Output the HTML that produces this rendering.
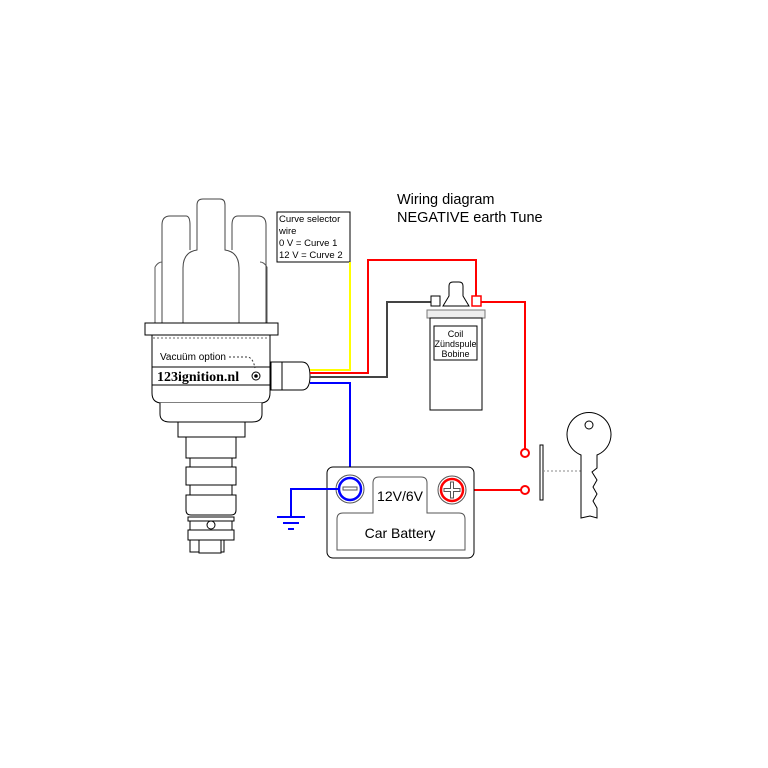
<!DOCTYPE html>
<html><head><style>body{margin:0;background:#fff}svg{display:block}text{font-family:"Liberation Sans",sans-serif}</style></head><body>
<svg width="768" height="768" viewBox="0 0 768 768" fill="none" stroke="#000" stroke-width="1">
<text x="397" y="204" font-size="14.5" fill="#000" stroke="none">Wiring diagram</text>
<text x="397" y="222" font-size="14.5" fill="#000" stroke="none">NEGATIVE earth Tune</text>
<path d="M155 267 L155 323 M267 267 L267 323" stroke="#555"/>
<path d="M162 323 L162 225 Q162 216 170 216 L186 216 Q190 216 190 225 L190 250" fill="#fff" stroke="#444"/>
<path d="M232 250 L232 225 Q232 216 238 216 L258 216 Q266 216 266 225 L266 323" fill="#fff" stroke="#444"/>
<path d="M155 267 Q158 262 162 262 M267 267 Q264 262 260 262" stroke="#555"/>
<path d="M183 323 L183 268 Q183 252 197 250 L197 205 Q197 199 203 199 L220 199 Q225 199 225 205 L225 250 Q239 252 239 268 L239 323" fill="#fff" stroke="#444"/>
<rect x="145" y="323" width="133" height="12" fill="#fff"/>
<path d="M152 335 L152 393 Q152 403 162 403 L260 403 Q270 403 270 393 L270 335 Z" fill="#fff"/>
<line x1="153" y1="338" x2="269" y2="338" stroke-dasharray="2,2" stroke="#666"/>
<line x1="152" y1="367" x2="270" y2="367"/>
<line x1="152" y1="385" x2="270" y2="385"/>
<text x="160" y="360" font-size="10" fill="#000" stroke="none">Vacuüm option</text>
<path d="M229 357 L248 357 Q253 358 255 368" stroke-dasharray="2,2" stroke="#333"/>
<circle cx="256" cy="376" r="4"/><circle cx="256" cy="376" r="1.3" fill="#000"/>
<text x="157" y="381" font-size="14" font-weight="bold" fill="#000" stroke="none" style="font-family:'Liberation Serif',serif">123ignition.nl</text>
<path d="M160 403 L160 414 Q160 422 170 422 L252 422 Q262 422 262 414 L262 403" fill="#fff"/>
<rect x="178" y="422" width="67" height="15" fill="#fff"/>
<rect x="186" y="437" width="50" height="21" fill="#fff"/>
<rect x="190" y="458" width="42" height="9" fill="#fff"/>
<rect x="186" y="467" width="50" height="18" fill="#fff"/>
<rect x="190" y="485" width="42" height="10" fill="#fff"/>
<path d="M186 495 L236 495 L236 510 Q236 515 231 515 L191 515 Q186 515 186 510 Z" fill="#fff"/>
<rect x="188" y="517" width="46" height="4" fill="#fff"/>
<rect x="190" y="521" width="42" height="9" fill="#fff"/>
<circle cx="211" cy="525" r="4" fill="#fff"/>
<rect x="188" y="530" width="46" height="10" fill="#fff"/>
<rect x="190" y="540" width="34" height="12" fill="#fff"/>
<rect x="199" y="540" width="22" height="13" fill="#fff"/>
<rect x="271" y="362" width="11" height="28" fill="#fff"/>
<path d="M282 362 L302 362 Q310 362 310 376 Q310 390 302 390 L282 390 Z" fill="#fff"/>
<rect x="277" y="212" width="73" height="50" fill="#fff"/>
<text font-size="9.5" fill="#000" stroke="none"><tspan x="279" y="222">Curve selector</tspan><tspan x="279" y="234">wire</tspan><tspan x="279" y="246">0 V = Curve 1</tspan><tspan x="279" y="258">12 V = Curve 2</tspan></text>
<polyline points="310,370 350,370 350,262" stroke="#ff0" stroke-width="2"/>
<polyline points="310,373 368,373 368,260 476,260 476,300" stroke="#f00" stroke-width="2"/>
<polyline points="310,377 387,377 387,302 432,302" stroke="#444" stroke-width="2"/>
<polyline points="310,383 350,383 350,478" stroke="#00f" stroke-width="2"/>
<polyline points="480,302 525,302 525,449" stroke="#f00" stroke-width="2"/>
<polyline points="465,490 521,490" stroke="#f00" stroke-width="2"/>
<circle cx="525" cy="453" r="4" stroke="#f00" stroke-width="2" fill="#fff"/>
<circle cx="525" cy="490" r="4" stroke="#f00" stroke-width="2" fill="#fff"/>
<path d="M443 306 L449 296 L449 286 Q449 282 453 282 L459 282 Q463 282 463 286 L463 296 L469 306 Z" fill="#fff"/>
<rect x="431" y="296" width="9" height="10" fill="#fff"/>
<rect x="472" y="296" width="9" height="10" fill="#fff" stroke="#f00" stroke-width="1.5"/>
<rect x="427" y="310" width="58" height="8" fill="#eee" stroke="#777"/>
<rect x="430" y="318" width="52" height="92" fill="#fff"/>
<rect x="434" y="326" width="43" height="34"/>
<text font-size="9" fill="#000" stroke="none" text-anchor="middle"><tspan x="455.5" y="337">Coil</tspan><tspan x="455.5" y="347">Zündspule</tspan><tspan x="455.5" y="357">Bobine</tspan></text>
<rect x="327" y="467" width="147" height="91" rx="6" fill="#fff"/>
<path d="M337 550 L337 519 Q337 513 343 513 L373 513 L373 483 Q373 477 379 477 L421 477 Q427 477 427 483 L427 513 L459 513 Q465 513 465 519 L465 550 Z" stroke="#555"/>
<text x="400" y="501" font-size="14" fill="#000" stroke="none" text-anchor="middle">12V/6V</text>
<text x="400" y="538" font-size="14" fill="#000" stroke="none" text-anchor="middle">Car Battery</text>
<circle cx="350" cy="489" r="14" fill="#fff" stroke="#555"/>
<circle cx="350" cy="489" r="11" stroke="#00f" stroke-width="2.5" fill="#fff"/>
<rect x="343" y="487" width="14" height="3" fill="#fff" stroke="#555"/>
<circle cx="452" cy="490" r="14" fill="#fff" stroke="#555"/>
<circle cx="452" cy="490" r="11" stroke="#f00" stroke-width="2.5" fill="#fff"/>
<path d="M450.5 482 h3 v6.5 h6.5 v3 h-6.5 v6.5 h-3 v-6.5 h-6.5 v-3 h6.5 Z" stroke="#555" fill="#fff"/>
<polyline points="338,489 291,489 291,517" stroke="#00f" stroke-width="2"/>
<line x1="277" y1="517" x2="305" y2="517" stroke="#00f" stroke-width="2"/>
<line x1="283" y1="523" x2="299" y2="523" stroke="#00f" stroke-width="2"/>
<line x1="288" y1="529" x2="294" y2="529" stroke="#00f" stroke-width="2"/>
<rect x="540" y="445" width="3" height="55" fill="#fff"/>
<line x1="543" y1="471" x2="581" y2="471" stroke="#888" stroke-dasharray="2,2"/>
<path d="M581 455 A22 22 0 1 1 597 455 L597 468 L592 472 L597 480 L593 487 L597 494 L593 501 L597 508 L597 518 L590 516 L581 518 Z" fill="#fff"/>
<circle cx="589" cy="425" r="4" fill="#fff"/>
</svg>
</body></html>
